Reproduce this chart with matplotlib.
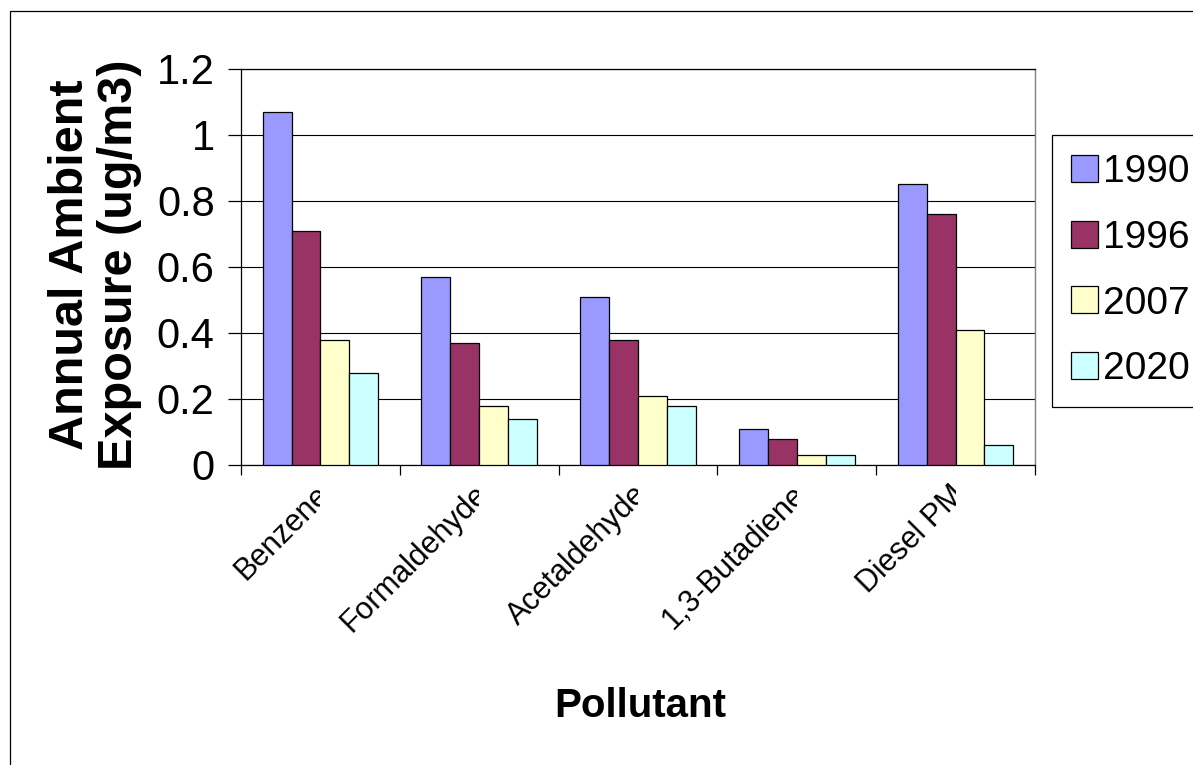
import numpy as np
import matplotlib
matplotlib.use("Agg")
import matplotlib.pyplot as plt
from matplotlib.patches import Rectangle
from matplotlib.transforms import Bbox, TransformedBbox, ScaledTranslation, blended_transform_factory

# Annual ambient exposure by pollutant and year (ug/m3)
pollutants = ["Benzene", "Formaldehyde", "Acetaldehyde", "1,3-Butadiene", "Diesel PM"]
years = ["1990", "1996", "2007", "2020"]
exp_1990 = [1.07, 0.57, 0.51, 0.11, 0.85]
exp_1996 = [0.71, 0.37, 0.38, 0.08, 0.76]
exp_2007 = [0.38, 0.18, 0.21, 0.03, 0.41]
exp_2020 = [0.28, 0.14, 0.18, 0.03, 0.06]
y_ticks = [0, 0.2, 0.4, 0.6, 0.8, 1.0, 1.2]

series = [exp_1990, exp_1996, exp_2007, exp_2020]
colors = ["#9999FF", "#993366", "#FFFFCC", "#CCFFFF"]

plt.rcParams["font.family"] = ["Liberation Sans", "DejaVu Sans"]

W, H = 1193, 765
fig = plt.figure(figsize=(W / 100, H / 100), dpi=100)
fig.patch.set_facecolor("white")

# outer chart border (runs off the right and bottom edges)
fig.add_artist(Rectangle((10 / W, -0.05), 1.2, 1 - 11 / H + 0.05,
                         transform=fig.transFigure, fill=False,
                         edgecolor="black", linewidth=0.9))

ax = fig.add_axes([241 / W, 1 - 465 / H, (1035 - 241) / W, (465 - 69) / H])

n = len(pollutants)
k = len(series)
x = np.arange(n)
bw = 1 / (k + 1.5)
for j, (vals, col, yr) in enumerate(zip(series, colors, years)):
    ax.bar(x + (j - (k - 1) / 2) * bw, vals, width=bw, color=col,
           edgecolor="black", linewidth=0.9, label=yr, zorder=3)

ax.set_xlim(-0.5, n - 0.5)
ax.set_ylim(0, 1.2)
ax.set_yticks(y_ticks)
ax.set_yticklabels([f"{v:g}" for v in y_ticks])
ax.yaxis.grid(True, color="black", linewidth=0.8)
ax.set_axisbelow(True)

ax.set_xticks(np.arange(n + 1) - 0.5)
ax.set_xticklabels([])
ax.tick_params(axis="x", direction="out", length=7.2, width=0.9, color="black")
ax.tick_params(axis="y", direction="out", length=9.4, width=0.9, color="black",
               labelsize=30, pad=9.5)

for s in ("left", "bottom", "top"):
    ax.spines[s].set_color("black")
    ax.spines[s].set_linewidth(0.9)
ax.spines["right"].set_color("#808080")
ax.spines["right"].set_linewidth(1.0)

# rotated category labels, cut off at each category centre
lab_tr = blended_transform_factory(ax.transData, ax.transAxes)
offset = ScaledTranslation(10 / 100, -31 / 100, fig.dpi_scale_trans)
for i, name in enumerate(pollutants):
    t = ax.text(i, 0, name, transform=lab_tr + offset, rotation=45,
                rotation_mode="anchor", ha="right", va="baseline",
                fontsize=22, color="black")
    t.set_clip_path(None)
    t.set_clip_box(TransformedBbox(Bbox([[-10, -10], [i, 10]]), lab_tr))
    t.set_clip_on(True)

ax.set_ylabel("Annual Ambient\nExposure (ug/m3)", fontsize=35, fontweight="bold",
              va="center", ha="center", multialignment="center", linespacing=1.12)
ax.yaxis.set_label_coords((95 - 241) / 794, (465 - 265) / 396)

ax.set_xlabel("Pollutant", fontsize=29, fontweight="bold", va="center")
ax.xaxis.set_label_coords((640 - 241) / 794, (465 - 706) / 396)

leg = ax.legend(loc="upper left", bbox_to_anchor=(1052 / W, 1 - 135 / H),
                bbox_transform=fig.transFigure, borderaxespad=0,
                fontsize=28, handlelength=0.69, handleheight=0.69,
                handletextpad=0.12, borderpad=0.5, labelspacing=0.76,
                fancybox=False, framealpha=1)
leg.get_frame().set_edgecolor("black")
leg.get_frame().set_linewidth(0.9)

fig.savefig("out.png", dpi=100, facecolor="white")
